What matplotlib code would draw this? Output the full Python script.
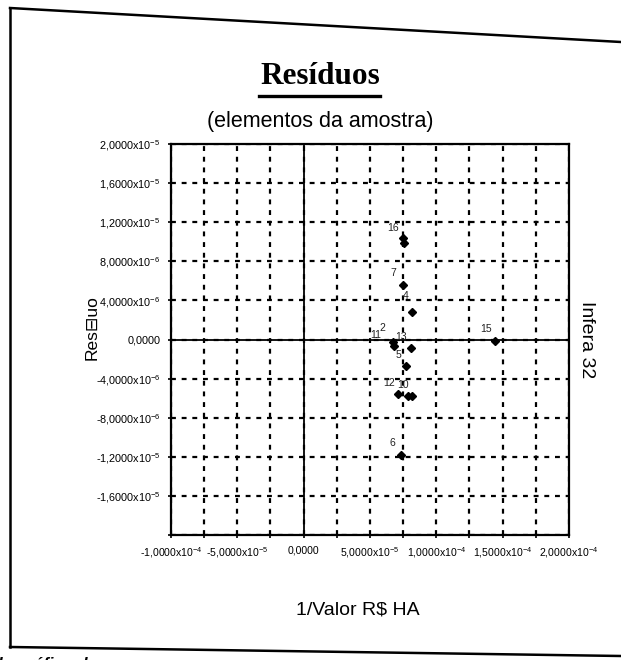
import matplotlib
matplotlib.use("Agg")
import matplotlib.pyplot as plt
from matplotlib.lines import Line2D
import numpy as np

plt.rcParams['font.family'] = ['Liberation Sans', 'DejaVu Sans']
plt.rcParams['mathtext.fontset'] = 'custom'
plt.rcParams['mathtext.rm'] = 'Liberation Sans'
plt.rcParams['mathtext.it'] = 'Liberation Sans'
plt.rcParams['mathtext.default'] = 'regular'

# ---- data ----
point_labels = ["16", "", "7", "4", "11", "2", "13", "5", "12", "10", "", "6", "15"]
x_values = [7.50e-5, 7.55e-5, 7.45e-5, 8.20e-5, 6.80e-5, 6.70e-5, 8.10e-5,
            7.70e-5, 7.10e-5, 7.85e-5, 8.20e-5, 7.35e-5, 1.44e-4]
y_values = [1.04e-5, 0.99e-5, 5.6e-6, 2.8e-6, -0.7e-6, -0.3e-6, -0.9e-6,
            -2.7e-6, -5.6e-6, -5.8e-6, -5.8e-6, -11.8e-6, -0.2e-6]

x_ticks = [-1.0e-4, -7.5e-5, -5.0e-5, -2.5e-5, 0.0, 2.5e-5, 5.0e-5, 7.5e-5,
           1.0e-4, 1.25e-4, 1.5e-4, 1.75e-4, 2.0e-4]
x_tick_labels = ["-1,0000x10$^{-4}$", "", "-5,0000x10$^{-5}$", "", "0,0000", "",
                 "5,0000x10$^{-5}$", "", "1,0000x10$^{-4}$", "", "1,5000x10$^{-4}$",
                 "", "2,0000x10$^{-4}$"]
y_ticks = [-2.0e-5, -1.6e-5, -1.2e-5, -8.0e-6, -4.0e-6, 0.0, 4.0e-6, 8.0e-6,
           1.2e-5, 1.6e-5, 2.0e-5]
y_tick_labels = ["", "-1,6000x10$^{-5}$", "-1,2000x10$^{-5}$", "-8,0000x10$^{-6}$",
                 "-4,0000x10$^{-6}$", "0,0000", "4,0000x10$^{-6}$", "8,0000x10$^{-6}$",
                 "1,2000x10$^{-5}$", "1,6000x10$^{-5}$", "2,0000x10$^{-5}$"]

title = "Resíduos"
subtitle = "(elementos da amostra)"
x_label = "1/Valor R$ HA"
y_label = "Res\u229fuo"
right_text = "Infera 32"

# label placement (style, in pixels relative to the marker)
label_offsets = {"16": (-10, 10), "4": (-7, 16), "2": (-10, 14), "11": (-18, 11),
                 "13": (-10, 11), "5": (-7, 11), "12": (-9, 11), "10": (-5, 11)}

W, H = 621, 660
fig = plt.figure(figsize=(W / 100, H / 100), dpi=100)
fig.patch.set_facecolor('white')

def fx(px):
    return px / W

def fy(py):
    return 1 - py / H

# outer frame (scanned page box)
for (x0, y0, x1, y1) in [(10, 8, 621, 42), (10, 8, 10, 647), (10, 647, 621, 656)]:
    fig.add_artist(Line2D([fx(x0), fx(x1)], [fy(y0), fy(y1)], color='black',
                          lw=1.8, transform=fig.transFigure))

ax = fig.add_axes([fx(171), fy(535), fx(569) - fx(171), (535 - 144) / H])
ax.set_xlim(-1.0e-4, 2.0e-4)
ax.set_ylim(-2.0e-5, 2.0e-5)

ax.set_xticks(x_ticks)
ax.set_xticklabels(x_tick_labels, fontsize=7.6)
ax.set_yticks(y_ticks)
ax.set_yticklabels(y_tick_labels, fontsize=7.8)
ax.tick_params(direction='inout', length=5, width=1.2, colors='black', pad=5)

ax.grid(True, color='black', linestyle=(0, (2.2, 2.6)), linewidth=1.6)
ax.set_axisbelow(True)
ax.axhline(0, color='black', lw=1.3, zorder=2)
ax.axvline(0, color='black', lw=1.3, zorder=2)
for s in ax.spines.values():
    s.set_linewidth(1.6)
    s.set_color('black')

ax.plot(x_values, y_values, linestyle='none', marker='D', markersize=4.5,
        color='black', zorder=4)
for lab, xv, yv in zip(point_labels, x_values, y_values):
    if lab:
        off = label_offsets.get(lab, (-9, 12))
        ax.annotate(lab, (xv, yv), xytext=off, textcoords='offset pixels',
                    ha='center', va='center', fontsize=7.5, color='#222222',
                    zorder=5)

fig.text(fx(358), fy(610), x_label, ha='center', va='center', fontsize=14)
fig.text(fx(92), fy(328), y_label, ha='center', va='center', fontsize=12.5,
         rotation=90)

fig.text(fx(320), fy(76), title, ha='center', va='center', fontsize=22.5,
         fontweight='bold', family='Liberation Serif')
fig.add_artist(Line2D([fx(259), fx(380)], [fy(96), fy(96)], color='black', lw=2.4,
                      transform=fig.transFigure))
fig.text(fx(320), fy(121), subtitle, ha='center', va='center', fontsize=15.5)
fig.text(fx(587), fy(340), right_text, ha='center', va='center', fontsize=14,
         rotation=270)
fig.text(fx(-2), fy(664), "lo gráfico de", ha='left', va='center', fontsize=12,
         fontweight='bold', style='italic')

fig.savefig("out.png", dpi=100, facecolor='white')
